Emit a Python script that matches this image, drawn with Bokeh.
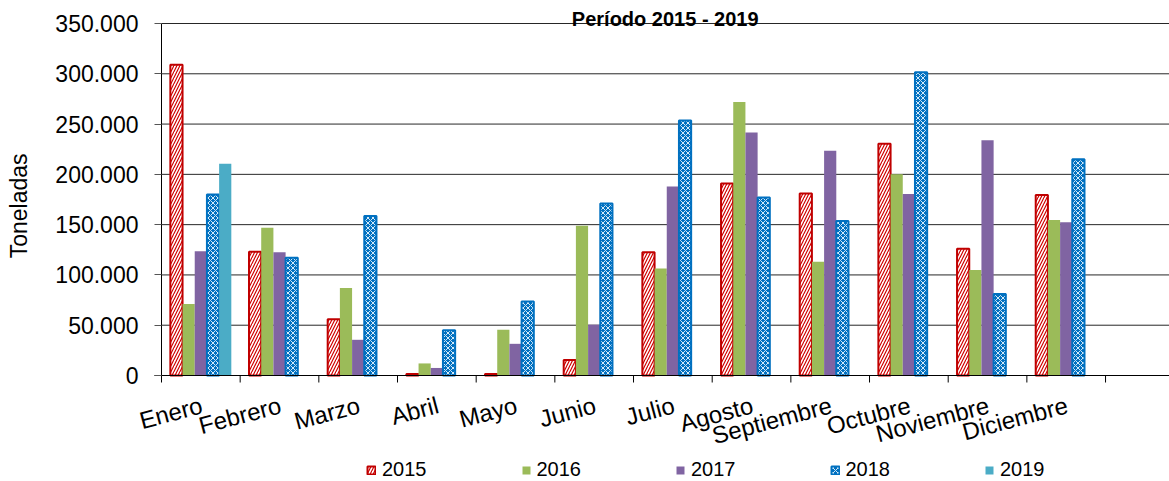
from bokeh.plotting import figure
from bokeh.models import (ColumnDataSource, Range1d, FixedTicker, Legend, LegendItem, Label)
from bokeh.core.properties import value
from bokeh.embed import file_html
from bokeh.resources import INLINE

meses = ["Enero", "Febrero", "Marzo", "Abril", "Mayo", "Junio", "Julio",
         "Agosto", "Septiembre", "Octubre", "Noviembre", "Diciembre"]
v2015 = [309000, 123000, 56000, 1500, 1500, 15500, 122500, 191000, 181000, 230500, 126000, 179500]
v2016 = [71000, 147000, 87000, 12000, 45500, 149000, 106500, 272000, 113000, 200000, 105000, 154500]
v2017 = [123500, 122500, 35500, 7500, 31500, 50500, 188000, 241500, 223500, 180500, 234000, 152500]
v2018 = [180000, 117000, 158500, 45000, 73500, 171000, 253500, 177000, 153500, 301500, 81000, 215000]
v2019 = [210500, 0, 0, 0, 0, 0, 0, 0, 0, 0, 0, 0]
years = ["2015", "2016", "2017", "2018", "2019"]
y_ticks = [0, 50000, 100000, 150000, 200000, 250000, 300000, 350000]
y_labels = ["0", "50.000", "100.000", "150.000", "200.000", "250.000", "300.000", "350.000"]
titulo = "Período  2015 - 2019"

FONT = "Liberation Sans"
W, H = 1169, 481
AXIS_PX = 161         # pixel column of the value axis
ZERO_PX = 375         # pixel row of value 0
TOP_PX = 23           # pixel row of the top tick
SLOT = 78.67          # px per month slot
BW = 0.155            # bar width (slot units)
K = (ZERO_PX - TOP_PX) / y_ticks[-1]       # px per tonne
X0 = 0.5                                   # data x of the value axis
X_END = X0 + (W - AXIS_PX) / SLOT

p = figure(width=W, height=H, output_backend="svg", toolbar_location=None,
           x_range=Range1d(X0 - AXIS_PX / SLOT, X_END),
           y_range=Range1d(-(H - ZERO_PX) / K, ZERO_PX / K),
           min_border_left=0, min_border_right=0, min_border_top=0, min_border_bottom=0)
p.outline_line_color = None
p.background_fill_color = "white"
p.xgrid.grid_line_color = None
p.ygrid.grid_line_color = None

centers = list(range(1, len(meses) + 1))

# horizontal gridlines (drawn first so they sit behind the bars)
gl = y_ticks[1:]
p.segment(x0=[X0] * len(gl), y0=gl, x1=[X_END] * len(gl), y1=gl,
          line_color="#000000", line_alpha=0.85, line_width=1)

series = [v2015, v2016, v2017, v2018, v2019]
styles = [
    dict(fill_color="white", line_color="#C00000", line_width=2, hatch_pattern="/",
         hatch_color="#D00000", hatch_scale=6, hatch_weight=1.2),
    dict(fill_color="#9BBB59", line_color=None),
    dict(fill_color="#8064A2", line_color=None),
    dict(fill_color="#0070C0", line_color="#0070C0", line_width=2, hatch_pattern="x",
         hatch_color="#D6EAF8", hatch_scale=5, hatch_weight=1.0),
    dict(fill_color="#4BACC6", line_color=None),
]
items = []
for k, (vals, st, yr) in enumerate(zip(series, styles, years)):
    xs = [c + (k - 2) * BW for c in centers]
    src = ColumnDataSource(dict(x=xs, top=vals))
    r = p.vbar(x="x", top="top", width=BW, bottom=0, source=src, **st)
    items.append(LegendItem(label=yr, renderers=[r]))

# value axis, pinned at the first category boundary
p.yaxis.fixed_location = X0
p.yaxis.bounds = (y_ticks[0], y_ticks[-1])
p.yaxis.ticker = FixedTicker(ticks=y_ticks)
p.yaxis.major_label_overrides = {t: l for t, l in zip(y_ticks, y_labels)}
p.yaxis.axis_label = "Toneladas" + "\u00a0" * 2
p.yaxis.axis_label_text_font = FONT
p.yaxis.axis_label_text_font_style = "normal"
p.yaxis.axis_label_text_font_size = "23px"
p.yaxis.axis_label_text_color = "black"
p.yaxis.axis_label_standoff = 20
p.yaxis.major_label_text_font = FONT
p.yaxis.major_label_text_font_size = "23px"
p.yaxis.major_label_text_color = "black"
p.yaxis.major_label_standoff = 16
p.yaxis.major_tick_out = 7
p.yaxis.major_tick_in = 0
p.yaxis.minor_tick_out = 0
p.yaxis.minor_tick_in = 0
p.yaxis.axis_line_color = "black"
p.yaxis.major_tick_line_color = "#555555"

# category axis drawn inside the frame (so the legend can sit below it)
p.xaxis.visible = False
p.segment(x0=[X0 - 7 / SLOT], y0=[0], x1=[X_END], y1=[0], line_color="black", line_width=1)
bounds = [c - 0.5 for c in centers] + [len(meses) + 0.5]
p.segment(x0=bounds, y0=[0] * len(bounds), x1=bounds, y1=[-7 / K] * len(bounds),
          line_color="black", line_width=1)
lab_src = ColumnDataSource(dict(x=[c + 1 / SLOT for c in centers],
                                y=[-29 / K] * len(centers), text=meses))
p.text(x="x", y="y", text="text", source=lab_src, angle=0.26,
       text_align="right", text_baseline="alphabetic",
       text_font=value(FONT), text_font_size=value("24px"), text_color="black")

legend = Legend(items=items, orientation="horizontal", location=(366, 0),
                label_text_font=FONT, label_text_font_size="20px", label_text_color="black",
                glyph_width=10, glyph_height=10, label_standoff=6, spacing=94,
                padding=0, margin=0, border_line_color=None, background_fill_alpha=0)
p.add_layout(legend, "center")

p.add_layout(Label(x=X0 + (667.5 - AXIS_PX) / SLOT, y=(ZERO_PX - 18) / K, text=titulo,
                   text_align="center", text_baseline="alphabetic", text_font=FONT,
                   text_font_size="20px", text_font_style="bold", text_color="black"))

open("out.html", "w").write(file_html(p, INLINE))
